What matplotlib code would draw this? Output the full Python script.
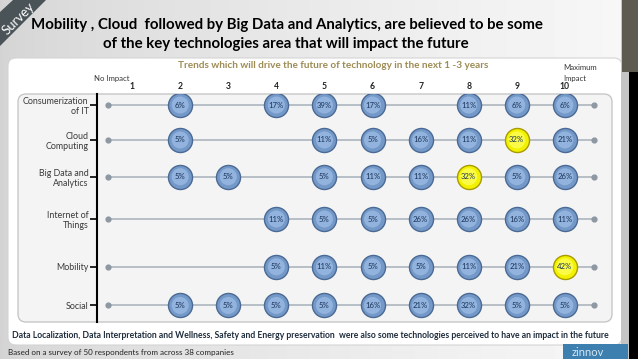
import matplotlib.pyplot as plt
import matplotlib.patches as mpatches
import numpy as np

plt.rcParams["font.family"] = ["Lato", "DejaVu Sans"]

# survey results: share of respondents per impact level 1..10 (0 = nobody)
categories = ["Consumerization\nof IT", "Cloud\nComputing", "Big Data and\nAnalytics",
              "Internet of\nThings", "Mobility", "Social"]
impact_levels = [1, 2, 3, 4, 5, 6, 7, 8, 9, 10]
consumerization = [0, 6, 0, 17, 39, 17, 0, 11, 6, 6]
cloud = [0, 5, 0, 0, 11, 5, 16, 11, 32, 21]
big_data = [0, 5, 5, 0, 5, 11, 11, 32, 5, 26]
iot = [0, 0, 0, 11, 5, 5, 26, 26, 16, 11]
mobility = [0, 0, 0, 5, 11, 5, 5, 11, 21, 42]
social = [0, 5, 5, 5, 5, 16, 21, 32, 5, 5]
rows = [consumerization, cloud, big_data, iot, mobility, social]
# (row, impact level) shown in yellow
highlighted = [(1, 9), (2, 8), (4, 10)]
# vertical position of each row on the category axis
row_pos = [5.9, 4.95, 3.95, 2.8, 1.5, 0.45]
line_start, line_end = 0.5, 10.6

W, H = 638, 359
fig = plt.figure(figsize=(W / 100, H / 100), dpi=100)

# ---- slide background, drawn in pixel units
bg = fig.add_axes([0, 0, 1, 1])
bg.set_xlim(0, W)
bg.set_ylim(H, 0)
bg.set_axis_off()
grad = 0.83 + 0.14 * np.linspace(0, 1, 200)[None, :] ** 0.7
grad = np.repeat(grad, 2, axis=0)
bg.imshow(grad, cmap="gray", vmin=0, vmax=1, extent=(0, W, H, 0), aspect="auto")

bg.add_patch(mpatches.FancyBboxPatch((8, 58), 614, 287,
                                     boxstyle="round,pad=0,rounding_size=8",
                                     facecolor="white", edgecolor="#d4d4d4", lw=0.8))
bg.add_patch(mpatches.FancyBboxPatch((18, 94), 594, 228,
                                     boxstyle="round,pad=0,rounding_size=8",
                                     facecolor="#f4f4f4", edgecolor="#c2c2c2", lw=0.9))

# right border strip
bg.add_patch(mpatches.Rectangle((621, 0), 8, H, facecolor="#c4c4c4", lw=0))
bg.add_patch(mpatches.Rectangle((629, 0), 9, H, facecolor="black", lw=0))
bg.add_patch(mpatches.Rectangle((622, 0), 16, 72, facecolor="#5d5b50", lw=0))

# "Survey" corner ribbon
bg.add_patch(mpatches.Polygon([(13, 0), (46, 0), (0, 46), (0, 12)],
                              facecolor="#4a5358", lw=0))
bg.text(18, 19, "Survey", rotation=45, color="white", fontsize=9.5,
        ha="center", va="center", rotation_mode="anchor")

# titles
bg.text(287, 25, "Mobility , Cloud  followed by Big Data and Analytics, are believed to be some",
        fontsize=10.8, fontweight="bold", ha="center", va="center", color="black")
bg.text(286, 44, "of the key technologies area that will impact the future",
        fontsize=10.8, fontweight="bold", ha="center", va="center", color="black")
bg.text(333, 66, "Trends which will drive the future of technology in the next 1 -3 years",
        fontsize=7.2, fontweight="bold", ha="center", va="center", color="#9d8c55")
bg.text(112, 78, "No Impact", fontsize=5.6, ha="center", va="center", color="#333333")
bg.text(563, 68, "Maximum", fontsize=5.6, ha="left", va="center", color="#333333")
bg.text(563, 79, "Impact", fontsize=5.6, ha="left", va="center", color="#333333")

bg.text(12, 335, "Data Localization, Data Interpretation and Wellness, Safety and Energy preservation  "
        "were also some technologies perceived to have an impact in the future",
        fontsize=6.2, fontweight="bold", ha="left", va="center", color="#1f2d3d")
bg.text(8, 352, "Based on a survey of 50 respondents from across 38 companies",
        fontsize=5.8, ha="left", va="center", color="#222222")

# zinnov logo
bg.add_patch(mpatches.Rectangle((563, 344), 65, 15, facecolor="#3d7fae", lw=0))
bg.text(588, 352, "zinnov", fontsize=8, color="#d6e6f2", ha="center", va="center")

# ---- the chart itself
left_px, right_px, top_px, bottom_px = 97, 612, 94, 322
ax = fig.add_axes([left_px / W, 1 - bottom_px / H,
                   (right_px - left_px) / W, (bottom_px - top_px) / H])
ax.set_facecolor("none")
ax.set_xlim(0.27, 10.98)
ax.set_ylim(0, 6.2)

ax.hlines(row_pos, line_start, line_end, color="#a7afb8", lw=1.1, zorder=1)
ax.scatter([line_start] * len(row_pos), row_pos, s=12, color="#8e98a3", zorder=2)
ax.scatter([line_end] * len(row_pos), row_pos, s=12, color="#8e98a3", zorder=2)

for i, values in enumerate(rows):
    for lvl, v in zip(impact_levels, values):
        if v == 0:
            continue
        hot = (i, lvl) in highlighted
        face, edge, shine = ("#f2f200", "#a89a00", "#ffff60") if hot else ("#7499c9", "#4a6a94", "#9dbce4")
        ax.scatter(lvl, row_pos[i], s=300, facecolor=face, edgecolor=edge, lw=1.0, zorder=3)
        ax.scatter(lvl, row_pos[i], s=150, facecolor=shine, edgecolor="none", alpha=0.75, zorder=4)
        ax.text(lvl, row_pos[i], f"{v}%", fontsize=5.6, color="#1a3358",
                ha="center", va="center", zorder=5)

for s in ["top", "right", "bottom"]:
    ax.spines[s].set_visible(False)
ax.spines["left"].set_linewidth(1.5)
ax.spines["left"].set_color("black")

ax.set_yticks(row_pos, categories)
ax.tick_params(axis="y", length=5, width=1.2, color="black", labelcolor="#3a3a3a",
               labelsize=6.4, pad=1)
for t in ax.get_yticklabels():
    t.set_horizontalalignment("right")
    t.set_multialignment("right")

ax.xaxis.set_ticks_position("top")
ax.set_xticks(impact_levels, [str(l) for l in impact_levels])
ax.tick_params(axis="x", length=0, pad=2, labelsize=6.2, colors="#222222")
for t in ax.get_xticklabels():
    t.set_fontweight("bold")

fig.savefig("out.png", dpi=100)
